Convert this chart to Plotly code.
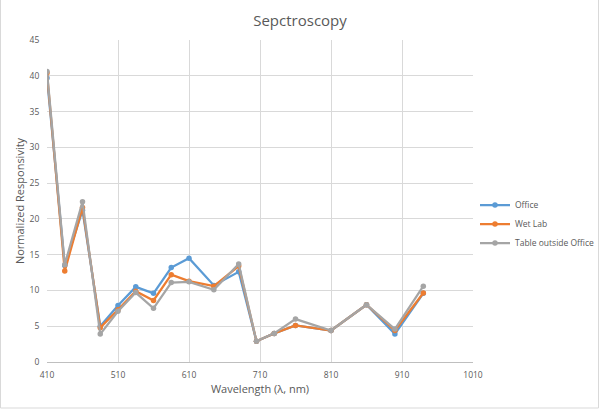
import plotly.graph_objects as go

wavelength = [410, 435, 460, 485, 510, 535, 560, 585, 610, 645, 680, 705, 730, 760, 810, 860, 900, 940]
office = [39.7, 13.5, 21.2, 5.0, 7.9, 10.5, 9.6, 13.2, 14.5, 10.7, 12.6, 2.9, 4.0, 5.1, 4.4, 8.0, 3.9, 9.6]
wet_lab = [40.4, 12.7, 21.6, 4.8, 7.3, 9.9, 8.6, 12.2, 11.3, 10.6, 13.4, 2.9, 4.0, 5.1, 4.4, 8.0, 4.4, 9.65]
table_outside = [40.6, 13.6, 22.4, 3.9, 7.1, 9.7, 7.5, 11.1, 11.2, 10.1, 13.7, 2.9, 4.0, 6.0, 4.4, 8.0, 4.6, 10.6]

x_ticks = [410, 510, 610, 710, 810, 910, 1010]
y_ticks = [0, 5, 10, 15, 20, 25, 30, 35, 40, 45]

font = "Open Sans"
grey = "#595959"

fig = go.Figure()
for name, vals, col in [("Office", office, "#5B9BD5"),
                        ("Wet Lab", wet_lab, "#ED7D31"),
                        ("Table outside Office", table_outside, "#A5A5A5")]:
    fig.add_trace(go.Scatter(x=wavelength, y=vals, name=name, mode="lines+markers",
                             line=dict(color=col, width=2.25),
                             marker=dict(color=col, size=5.5)))

fig.update_layout(
    width=600, height=410,
    margin=dict(l=47, r=127, t=40, b=48),
    paper_bgcolor="white", plot_bgcolor="white",
    font=dict(family=font, color=grey, size=9),
    title=dict(text="Sepctroscopy", x=0.5, xanchor="center", y=0.95, yanchor="middle",
               font=dict(size=15, color=grey, family=font)),
    xaxis=dict(range=[410, 1010], tickvals=x_ticks, showgrid=True, gridcolor="#D9D9D9",
               zeroline=False, showline=True, linecolor="#BFBFBF",
               ticks="outside", ticklen=5, tickcolor="rgba(0,0,0,0)", automargin=False,
               title=dict(text="Wavelength (λ, nm)", font=dict(size=11, color=grey), standoff=6),
               tickfont=dict(size=8.5, color=grey)),
    yaxis=dict(range=[0, 45], tickvals=y_ticks, showgrid=True, gridcolor="#D9D9D9",
               zeroline=False, showline=False,
               ticks="outside", ticklen=5, tickcolor="rgba(0,0,0,0)", automargin=False,
               title=dict(text="Normalized Responsivity", font=dict(size=11, color=grey), standoff=2),
               tickfont=dict(size=8.5, color=grey)),
    legend=dict(xref="container", yref="container", x=475 / 600, xanchor="left",
                y=1 - 224 / 410, yanchor="middle", tracegroupgap=0,
                font=dict(size=8.5, color=grey), bgcolor="rgba(0,0,0,0)"),
    shapes=[dict(type="rect", xref="paper", yref="paper",
                 x0=(0.5 - 47) / 426, x1=(598.5 - 47) / 426,
                 y0=(362 - 408) / 322, y1=(362 + 2) / 322,
                 line=dict(color="#D9D9D9", width=1), layer="below")],
)

fig.write_html("out.html", config={"displayModeBar": False},
               post_script="document.body.style.margin='0';")
